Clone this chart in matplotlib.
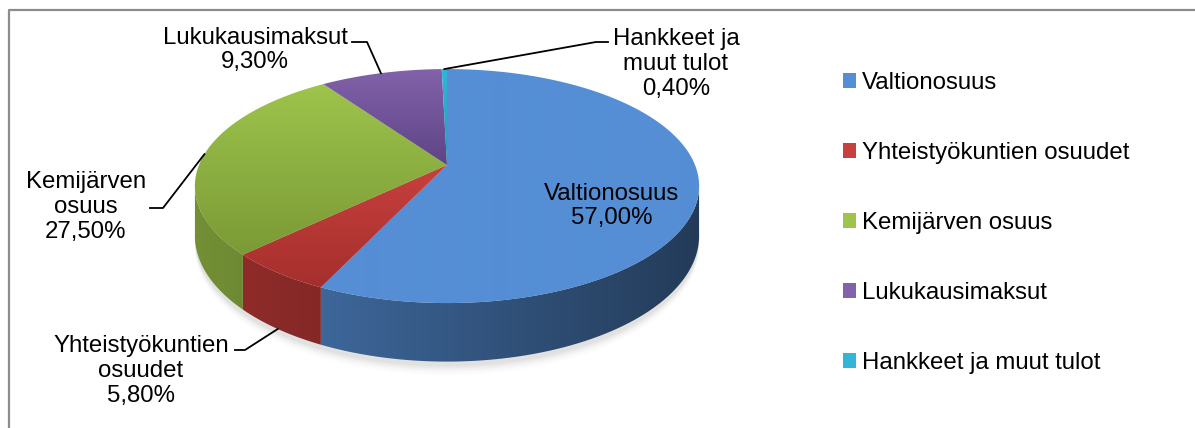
import numpy as np
import matplotlib
matplotlib.use('Agg')
import matplotlib.pyplot as plt
from matplotlib.patches import Polygon, Patch
from matplotlib.colors import to_rgb

plt.rcParams['font.family'] = ['Liberation Sans', 'DejaVu Sans']

# data
labels = ['Valtionosuus', 'Yhteistyökuntien osuudet', 'Kemijärven osuus',
          'Lukukausimaksut', 'Hankkeet ja muut tulot']
shares = [57.0, 5.8, 27.5, 9.3, 0.4]
slice_text = ['Valtionosuus\n57,00%', 'Yhteistyökuntien\nosuudet\n5,80%',
              'Kemijärven\nosuus\n27,50%', 'Lukukausimaksut\n9,30%',
              'Hankkeet ja\nmuut tulot\n0,40%']

# colours (top of slice / bottom of slice)
top_cols = ['#558ED5', '#C8403D', '#9EC44C', '#8262AA', '#33B5D8']
bot_cols = ['#558ED5', '#A52F2D', '#7A9A36', '#5E4486', '#2799B8']

# label placement (pixels) and leader elbows
label_xy = [(612, 206), (141, 371), (86, 207), (255, 50), (676, 64)]
leaders = [None, (235, 245, 350), (150, 163, 208), (352, 367, 42), (608, 596, 42)]

FS = 17.3
W, H = 1195, 428
# pie geometry (perspective squashed disc)
CX, CY = 447, 165
SX, SY = 248, 113.2
K = 0.18
DEPTH = 48


def proj(t, drop=0.0):
    X, Z = np.sin(t), np.cos(t)
    d = 1 + K * Z
    return CX + SX * X / d, CY - SY * Z / d + drop / d


fig = plt.figure(figsize=(W / 100, H / 100), dpi=100)
ax = fig.add_axes([0, 0, 1, 1])
ax.set_xlim(0, W)
ax.set_ylim(H, 0)
ax.axis('off')

# frame of the chart area
ax.plot([9, 9, W], [H, 10, 10], color='#8C8C8C', lw=1.6, solid_capstyle='butt', zorder=1)

fracs = np.cumsum([0] + shares) / sum(shares)
angles = 2 * np.pi * fracs

# soft shadow under the pie
tt = np.linspace(0, 2 * np.pi, 200)
for i, a in enumerate(np.linspace(0.05, 0.015, 6)):
    sx, sy = proj(tt, DEPTH + 4 + i * 1.5)
    ax.fill(sx, sy, color='#000000', alpha=a * 0.6, lw=0, zorder=2)

# side walls: only the front (visible) part of the rim
t_lo = np.arccos(-K) - 0.02
t_hi = 2 * np.pi - np.arccos(-K) + 0.02
cols_x = (np.arange(W) + 0.5 - CX) / SX
shade = np.clip(0.62 - 0.2 * cols_x, 0.3, 0.9)[None, :, None]
for i in range(len(shares)):
    a0, a1 = max(angles[i], t_lo), min(angles[i + 1], t_hi)
    if a1 <= a0:
        continue
    ts = np.linspace(a0, a1, max(3, int(np.degrees(a1 - a0)) * 2))
    xt, yt = proj(ts)
    xb, yb = proj(ts, DEPTH)
    pts = list(zip(xt, yt)) + list(zip(xb[::-1], yb[::-1]))
    poly = Polygon(pts, closed=True, facecolor='none', edgecolor='none', zorder=3)
    ax.add_patch(poly)
    base = (np.array(to_rgb(top_cols[i])) + np.array(to_rgb(bot_cols[i]))) / 2
    img = np.clip(base[None, None, :] * shade, 0, 1)
    im = ax.imshow(img, extent=[0, W, H, 0], origin='upper', aspect='auto',
                   interpolation='bilinear', zorder=3)
    im.set_clip_path(poly)

# top faces with vertical gradient
rows = np.arange(H) + 0.5
for i in range(len(shares)):
    ts = np.linspace(angles[i], angles[i + 1], max(3, int(np.degrees(angles[i + 1] - angles[i])) * 2))
    xs, ys = proj(ts)
    pts = [(CX, CY)] + list(zip(xs, ys))
    poly = Polygon(pts, closed=True, facecolor='none', edgecolor='none', zorder=4)
    ax.add_patch(poly)
    ymin, ymax = min(p[1] for p in pts), max(p[1] for p in pts)
    fr = np.clip((rows - ymin) / max(ymax - ymin, 1), 0, 1)[:, None]
    c0, c1 = np.array(to_rgb(top_cols[i])), np.array(to_rgb(bot_cols[i]))
    img = (c0 * (1 - fr) + c1 * fr)[:, None, :]
    im = ax.imshow(img, extent=[0, W, H, 0], origin='upper', aspect='auto',
                   interpolation='bilinear', zorder=4)
    im.set_clip_path(poly)

ax.set_xlim(0, W)
ax.set_ylim(H, 0)

# data labels and leader lines
for i in range(len(shares)):
    lx, ly = label_xy[i]
    ax.text(lx, ly, slice_text[i], ha='center', va='center', fontsize=FS,
            linespacing=1.15, color='black', zorder=6)
    if leaders[i] is not None:
        tm = (angles[i] + angles[i + 1]) / 2
        drop = DEPTH if np.cos(tm) < 0 else 0
        px, py = proj(tm, drop)
        xa, xb, yl = leaders[i]
        ax.plot([xa, xb, px], [yl, yl, py], color='black', lw=1.3, zorder=6)

# legend
handles = [Patch(facecolor=top_cols[i], edgecolor='none') for i in range(len(labels))]
ax.legend(handles, labels, loc='upper left', bbox_to_anchor=(843 / W, 1 - 72 / H),
          frameon=False, fontsize=FS, handlelength=0.55, handleheight=0.55,
          handletextpad=0.22, labelspacing=2.0, borderpad=0, borderaxespad=0)

fig.savefig('out.png', dpi=100)
